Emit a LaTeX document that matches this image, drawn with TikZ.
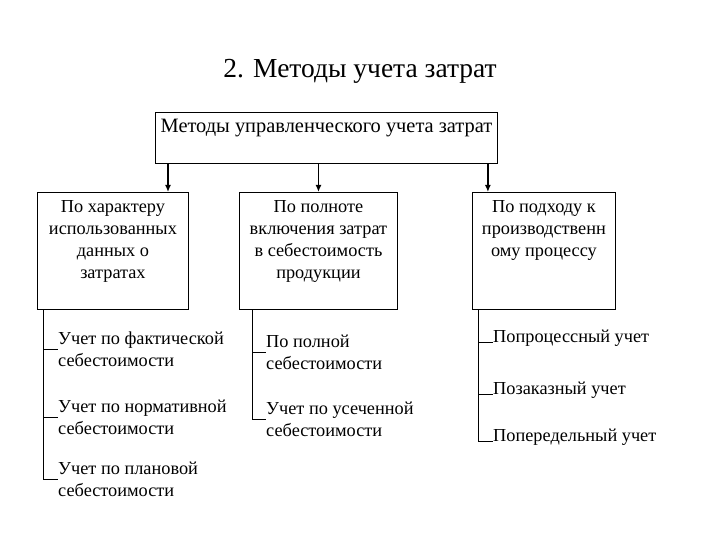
\documentclass[tikz,border=0pt]{standalone}
\usepackage{fontspec}
\setmainfont{Liberation Serif}
\usetikzlibrary{positioning,arrows.meta}
\newcommand{\boxtxt}[4]{\parbox[c][#2][t]{#1}{\centering\vspace*{#3}#4}}

\begin{document}
\begin{tikzpicture}[x=1pt,y=1pt,
	every node/.append style={font=\fontsize{18.3}{22}\selectfont},
	box/.style={draw, line width=0.9pt, inner sep=0pt, anchor=north west},
	item/.style={inner sep=0pt, align=left, anchor=west},
	item1/.style={inner sep=0pt, anchor=base west},
	conn/.style={line width=0.8pt},
	arr/.style={-{Latex[length=7pt,width=6pt]}, line width=1.8pt}]
	\useasboundingbox (0,0) rectangle (720,-540);
	% title and boxes
	\node (title) at (360,-71) {\fontsize{27.5}{32}\selectfont 2. Методы учета затрат};
	\node[box] (top) at (155,-112) {\boxtxt{342pt}{51pt}{7pt}{\fontsize{20.4}{24}\selectfont Методы управленческого учета затрат}};
	\node[box] (b1) at (37,-192) {\boxtxt{151pt}{117pt}{8pt}{По характеру\\использованных\\данных о\\затратах}};
	\node[box] (b2) at (239,-192) {\boxtxt{158pt}{117pt}{8pt}{По полноте\\включения затрат\\в себестоимость\\продукции}};
	\node[box] (b3) at (472,-192) {\boxtxt{143pt}{117pt}{8pt}{По подходу к\\производственн\\ому процессу}};
	
	\draw[arr] ([xshift=13pt]top.south west) -- ([xshift=13pt]top.south west |- b1.north);
	\draw[arr] (b2.north |- top.south) -- (b2.north);
	\draw[arr] ([xshift=-10pt]top.south east) -- ([xshift=-10pt]top.south east |- b3.north);
	
	% first column
	\coordinate (s1) at ([xshift=6pt]b1.south west);
	\node[item] (u1) at (58,-349) {Учет по фактической\\себестоимости};
	\node[item] (u2) at (58,-417) {Учет по нормативной\\себестоимости};
	\node[item] (u3) at (58,-479) {Учет по плановой\\себестоимости};
	\draw[conn] (s1) |- (u3.west);
	\draw[conn] (s1 |- u1.west) -- (u1.west);
	\draw[conn] (s1 |- u2.west) -- (u2.west);
	
	% second column
	\coordinate (s2) at ([xshift=13pt]b2.south west);
	\node[item] (v1) at (266,-352) {По полной\\себестоимости};
	\node[item] (v2) at (266,-419) {Учет по усеченной\\себестоимости};
	\draw[conn] (s2) |- (v2.west);
	\draw[conn] (s2 |- v1.west) -- (v1.west);
	
	% third column
	\coordinate (s3) at ([xshift=6pt]b3.south west);
	\node[item1] (w1) at (493,-342) {Попроцессный учет};
	\node[item1] (w2) at (493,-394) {Позаказный учет};
	\node[item1] (w3) at (493,-441) {Попередельный учет};
	\draw[conn] (s3) |- (w3.base west);
	\draw[conn] (s3 |- w1.base west) -- (w1.base west);
	\draw[conn] (s3 |- w2.base west) -- (w2.base west);
\end{tikzpicture}
\end{document}
